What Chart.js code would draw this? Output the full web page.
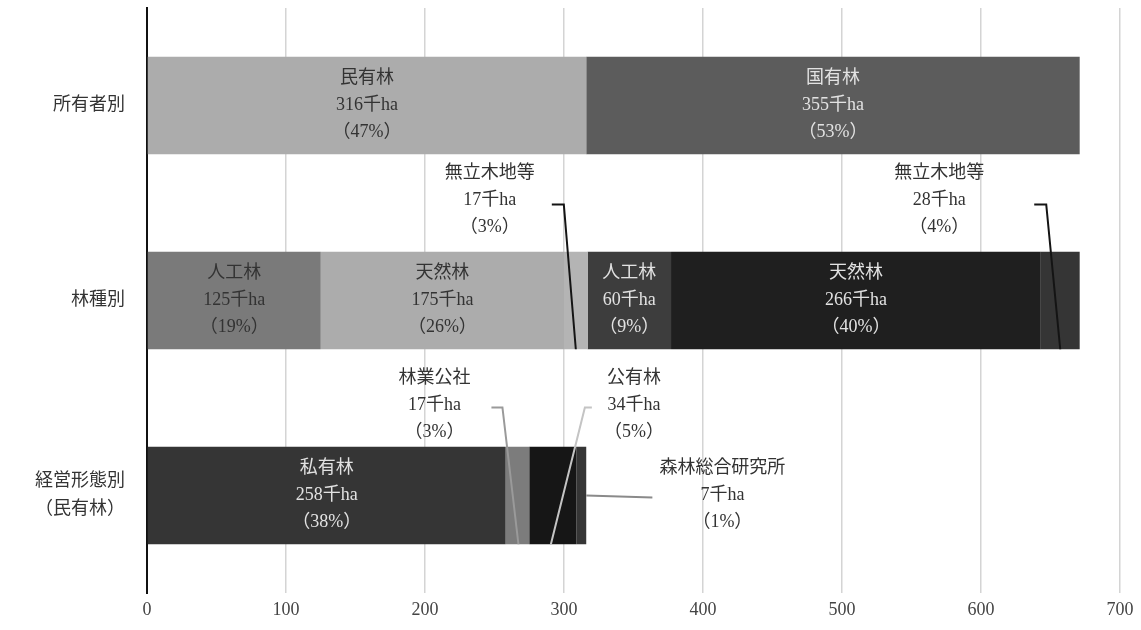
<!DOCTYPE html>
<html lang="ja">
<head>
<meta charset="utf-8">
<title>森林面積の内訳</title>
<script src="https://cdn.jsdelivr.net/npm/chart.js@4.4.1/dist/chart.umd.min.js"></script>
<style>
  html, body { margin: 0; padding: 0; background: #ffffff; }
  #wrap { width: 1141px; height: 630px; }
</style>
</head>
<body>
<div id="wrap"><canvas id="chart" width="1141" height="630"></canvas></div>
<script>
// ---- data (thousand ha / share of total %) ----
const categories = ["所有者別", "林種別", ["経営形態別", "（民有林）"]];

const ownerNames  = ["民有林", "国有林"];
const ownerValues = [316, 355];
const ownerShares = [47, 53];

const forestTypeNames  = ["人工林", "天然林", "無立木地等", "人工林", "天然林", "無立木地等"];
const forestTypeValues = [125, 175, 17, 60, 266, 28];
const forestTypeShares = [19, 26, 3, 9, 40, 4];

const managementNames  = ["私有林", "林業公社", "公有林", "森林総合研究所"];
const managementValues = [258, 17, 34, 7];
const managementShares = [38, 3, 5, 1];

const xTicks = [0, 100, 200, 300, 400, 500, 600, 700];

// ---- appearance ----
const DARK_TEXT = "#333333";
const LIGHT_TEXT = "#e2e2e2";

const ownerStyle = [
  { fill: "#acacac", text: DARK_TEXT },
  { fill: "#5c5c5c", text: LIGHT_TEXT }
];
const forestTypeStyle = [
  { fill: "#7a7a7a", text: DARK_TEXT },
  { fill: "#acacac", text: DARK_TEXT },
  { fill: "#b4b4b4", text: DARK_TEXT,
    callout: { dx: -86, dy: -100, line: "#141414", width: 2,
               path: [[-24, -96], [-12, -96], [0, "bottom"]] } },
  { fill: "#3d3d3d", text: LIGHT_TEXT },
  { fill: "#1f1f1f", text: LIGHT_TEXT },
  { fill: "#353535", text: DARK_TEXT,
    callout: { dx: -121, dy: -100, line: "#141414", width: 2,
               path: [[-26, -96], [-14, -96], [0, "bottom"]] } }
];
const managementStyle = [
  { fill: "#353535", text: LIGHT_TEXT },
  { fill: "#7c7c7c", text: DARK_TEXT,
    callout: { dx: -83, dy: -90, line: "#9a9a9a", width: 2,
               path: [[-26, -88], [-15, -88], [1, "bottom"]] } },
  { fill: "#161616", text: LIGHT_TEXT,
    callout: { dx: 81, dy: -90, line: "#c4c4c4", width: 2,
               path: [[39, -88], [32, -88], [-2, "bottom"]] } },
  { fill: "#363636", text: DARK_TEXT,
    callout: { dx: 141, dy: 0, line: "#8a8a8a", width: 2,
               path: [["right", 0], [71, 2]] } }
];

const LABEL_FONT = '"Liberation Serif", "Noto Sans CJK JP", serif';

// one dataset per segment, placed on its own category row
function segmentDatasets(row, names, values, shares, styles) {
  return names.map((name, i) => {
    const data = categories.map(() => null);
    data[row] = values[i];
    return {
      label: name,
      data: data,
      backgroundColor: styles[i].fill,
      borderWidth: 0,
      row: row,
      segName: name,
      segValue: values[i],
      segShare: shares[i],
      segStyle: styles[i]
    };
  });
}

const datasets = [
  ...segmentDatasets(0, ownerNames, ownerValues, ownerShares, ownerStyle),
  ...segmentDatasets(1, forestTypeNames, forestTypeValues, forestTypeShares, forestTypeStyle),
  ...segmentDatasets(2, managementNames, managementValues, managementShares, managementStyle)
];

// writes name / area / share on each segment, with leader lines for the narrow ones
const segmentLabels = {
  id: "segmentLabels",
  afterDatasetsDraw(chart) {
    const ctx = chart.ctx;
    const lineGap = 27;
    ctx.save();
    chart.data.datasets.forEach((ds, i) => {
      const el = chart.getDatasetMeta(i).data[ds.row];
      if (!el) return;
      const p = el.getProps(["x", "y", "base", "height"], true);
      const cx = (p.x + p.base) / 2;
      const cy = p.y;
      const right = Math.max(p.x, p.base);
      const bottom = cy + p.height / 2;
      const st = ds.segStyle;
      const lines = [ds.segName, ds.segValue + "千ha", "（" + ds.segShare + "%）"];

      let tx = cx, ty = cy, color = st.text;
      if (st.callout) {
        const c = st.callout;
        ctx.beginPath();
        ctx.strokeStyle = c.line;
        ctx.lineWidth = c.width;
        c.path.forEach((pt, k) => {
          const px = pt[0] === "right" ? right : cx + pt[0];
          const py = pt[1] === "bottom" ? bottom : cy + pt[1];
          if (k === 0) ctx.moveTo(px, py); else ctx.lineTo(px, py);
        });
        ctx.stroke();
        tx = cx + c.dx;
        ty = cy + c.dy;
        color = DARK_TEXT;
      }
      ctx.fillStyle = color;
      ctx.font = "18px " + LABEL_FONT;
      ctx.textAlign = "center";
      ctx.textBaseline = "middle";
      lines.forEach((t, k) => {
        ctx.fillText(t, tx, ty + (k - 1) * lineGap);
      });
    });
    ctx.restore();
  }
};

new Chart(document.getElementById("chart"), {
  type: "bar",
  data: { labels: categories, datasets: datasets },
  plugins: [segmentLabels],
  options: {
    indexAxis: "y",
    responsive: false,
    animation: false,
    devicePixelRatio: 1,
    layout: { padding: { top: 8, right: 21, left: 0, bottom: 0 } },
    datasets: { bar: { categoryPercentage: 1.0, barPercentage: 0.5 } },
    plugins: {
      legend: { display: false },
      tooltip: { enabled: false },
      title: { display: false }
    },
    scales: {
      x: {
        stacked: true,
        min: xTicks[0],
        max: xTicks[xTicks.length - 1],
        afterBuildTicks(scale) { scale.ticks = xTicks.map(v => ({ value: v })); },
        ticks: {
          color: "#444444",
          padding: 6,
          font: { family: LABEL_FONT, size: 18 }
        },
        grid: { color: "#d4d4d4", lineWidth: 1.5, drawTicks: false },
        border: { display: false },
        afterFit(scale) { scale.height = 37; }
      },
      y: {
        stacked: true,
        ticks: {
          color: "#333333",
          padding: 22,
          font: { family: LABEL_FONT, size: 18, lineHeight: 1.55 }
        },
        grid: { display: false, drawTicks: false },
        border: { display: true, color: "#111111", width: 2 },
        afterFit(scale) {
          scale.width = 147;
          scale.paddingTop = 0;
          scale.paddingBottom = 0;
        }
      }
    }
  }
});
</script>
</body>
</html>
